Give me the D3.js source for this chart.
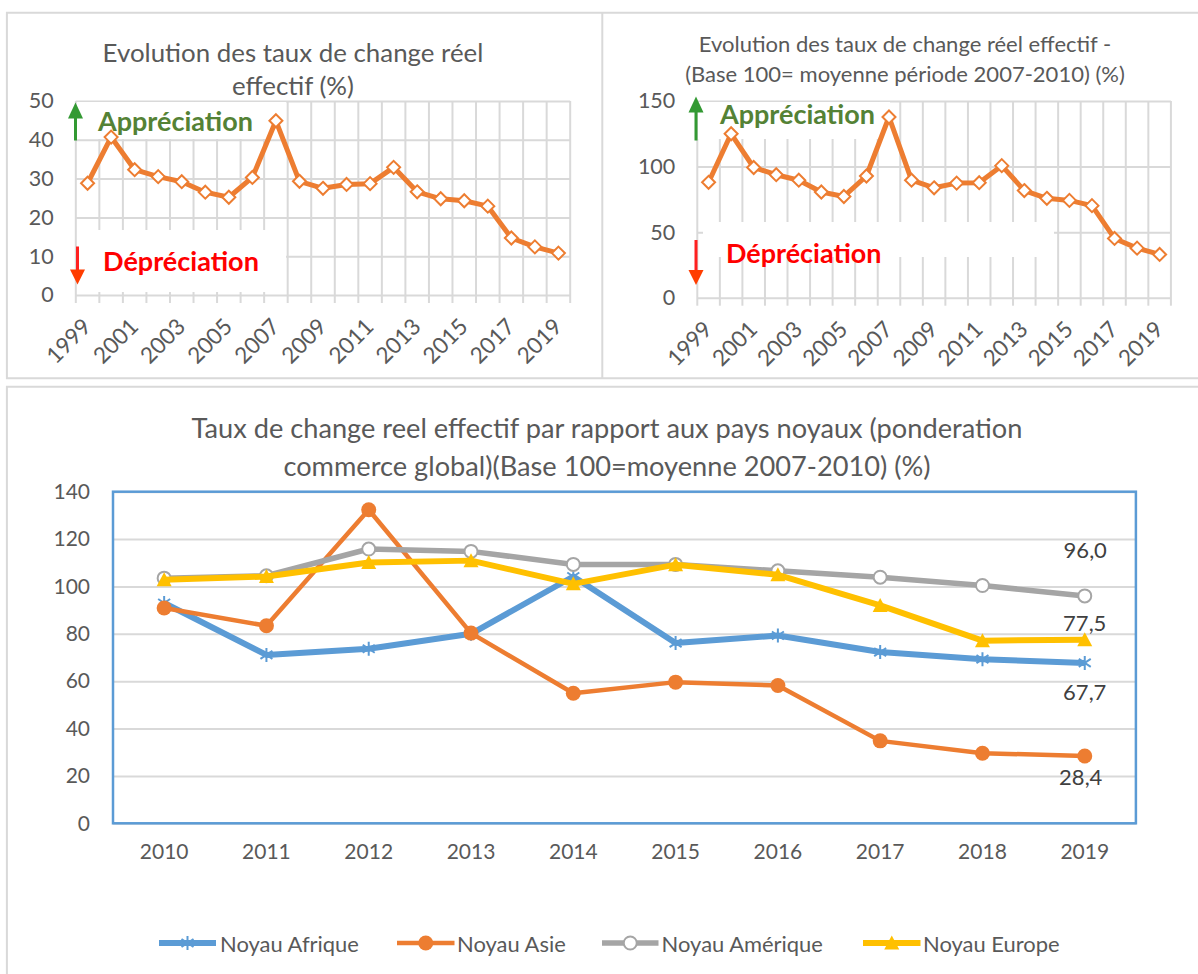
<!DOCTYPE html>
<html>
<head>
<meta charset="utf-8">
<script src="https://cdn.jsdelivr.net/npm/d3@7.9.0/dist/d3.min.js"></script>
<style>
  body { margin: 0; background: #fff; }
  svg { display: block; }
  text { font-family: Lato, "Open Sans", sans-serif; }
</style>
</head>
<body>
<svg id="chart" width="1198" height="974"></svg>
<script>
// ---- data ----
const years = ["1999", "2000", "2001", "2002", "2003", "2004", "2005", "2006", "2007", "2008",
  "2009", "2010", "2011", "2012", "2013", "2014", "2015", "2016", "2017", "2018", "2019"];
const tcrePct = [28.8, 40.7, 32.3, 30.5, 29.2, 26.5, 25.2, 30.3, 44.9, 29.3,
  27.5, 28.5, 28.7, 32.9, 26.6, 24.8, 24.3, 22.9, 14.7, 12.4, 10.8];
const tcreBase100 = [88.0, 125.0, 99.3, 93.8, 89.6, 80.6, 77.2, 92.8, 137.8, 89.6,
  83.8, 87.4, 87.7, 100.7, 81.7, 75.8, 74.2, 70.2, 45.2, 37.8, 33.0];

const coreYears = ["2010", "2011", "2012", "2013", "2014", "2015", "2016", "2017", "2018", "2019"];
const noyauAfrique = [93.0, 71.1, 73.7, 80.0, 104.2, 76.1, 79.3, 72.3, 69.3, 67.7];
const noyauAsie = [90.9, 83.4, 132.4, 80.3, 54.9, 59.6, 58.2, 34.8, 29.6, 28.4];
const noyauAmerique = [103.5, 104.5, 115.8, 114.8, 109.3, 109.3, 106.6, 103.9, 100.4, 96.0];
const noyauEurope = [102.8, 104.2, 110.1, 110.9, 101.1, 109.2, 104.9, 92.0, 77.1, 77.5];
const seriesNames = ["Noyau Afrique", "Noyau Asie", "Noyau Amérique", "Noyau Europe"];

const svg = d3.select("#chart");
const grid = "#d9d9d9";
const labelColor = "#595959";

// shrink/grow a text to a given width
function fitText(sel, target) {
  const w = sel.node().getComputedTextLength();
  const size = parseFloat(sel.attr("font-size")) * target / w;
  sel.attr("font-size", size);
  return size;
}

// ---- panel frames ----
const frame = svg.append("g").attr("stroke", grid).attr("stroke-width", 2);
frame.append("path").attr("fill", "none")
  .attr("d", "M1198,12.7H6.9V378.3H1198M602.3,12.7V378.3M1198,386.7H6.9V974");

// ---- the two small charts ----
function drawSmall(cfg) {
  const g = svg.append("g");
  const x = d3.scaleBand().domain(years).range([cfg.left, cfg.right]);
  const y = d3.scaleLinear().domain(cfg.yDomain).range([cfg.bottom, cfg.top]);
  const bw = x.bandwidth();

  // horizontal grid + labels
  const yAxis = g.append("g")
    .attr("transform", `translate(${cfg.left},0)`)
    .call(d3.axisLeft(y).tickValues(cfg.yTicks).tickSize(-(cfg.right - cfg.left)).tickPadding(22));
  yAxis.select(".domain").remove();
  yAxis.selectAll("line").attr("stroke", grid).attr("stroke-width", 2);
  yAxis.selectAll("text").attr("fill", labelColor).attr("font-size", 21.5).attr("font-family", "Lato");

  // vertical grid on category bounds
  const bounds = years.map(d => x(d)).concat([cfg.right]);
  g.append("g").selectAll("line").data(bounds).join("line")
    .attr("x1", d => d).attr("x2", d => d)
    .attr("y1", cfg.top).attr("y2", cfg.bottom + 8)
    .attr("stroke", grid).attr("stroke-width", 2);

  // rotated year labels
  g.append("g").selectAll("text").data(years.filter((d, i) => i % 2 === 0)).join("text")
    .attr("transform", d => `translate(${x(d) + bw / 2 + 5},${cfg.bottom + 33}) rotate(-45)`)
    .attr("text-anchor", "end")
    .attr("font-size", 22.5)
    .attr("fill", labelColor)
    .text(d => d);

  // white text boxes over the grid
  g.append("g").selectAll("rect").data(cfg.boxes).join("rect")
    .attr("x", d => d[0]).attr("y", d => d[1]).attr("width", d => d[2]).attr("height", d => d[3])
    .attr("fill", "#fff");

  // arrows
  const up = cfg.upArrow, dn = cfg.downArrow;
  g.append("line").attr("x1", up.x).attr("x2", up.x).attr("y1", up.y2).attr("y2", up.y1 + 12)
    .attr("stroke", "#339933").attr("stroke-width", 3);
  g.append("path").attr("fill", "#339933")
    .attr("d", `M${up.x},${up.y1}L${up.x + 7.5},${up.y1 + 16}L${up.x - 7.5},${up.y1 + 16}Z`);
  g.append("line").attr("x1", dn.x).attr("x2", dn.x).attr("y1", dn.y1).attr("y2", dn.y2 - 12)
    .attr("stroke", "#ff2020").attr("stroke-width", 3);
  g.append("path").attr("fill", "#ff3d00")
    .attr("d", `M${dn.x},${dn.y2}L${dn.x + 7.5},${dn.y2 - 15}L${dn.x - 7.5},${dn.y2 - 15}Z`);

  // annotation words
  const ap = g.append("text").attr("x", cfg.appr[0]).attr("y", cfg.appr[1])
    .attr("dominant-baseline", "central").attr("font-weight", "bold").attr("font-size", 26)
    .attr("fill", "#548235").text("Appréciation");
  fitText(ap, cfg.appr[2]);
  const dp = g.append("text").attr("x", cfg.depr[0]).attr("y", cfg.depr[1])
    .attr("dominant-baseline", "central").attr("font-weight", "bold").attr("font-size", 26)
    .attr("fill", "#ff0000").text("Dépréciation");
  fitText(dp, cfg.depr[2]);

  // title
  const t = g.append("g").attr("fill", labelColor);
  const lines = cfg.title.map((s, i) => t.append("text")
    .attr("x", cfg.titleX).attr("y", cfg.titleY[i])
    .attr("text-anchor", "middle").attr("dominant-baseline", "central")
    .attr("font-size", 24).text(s));
  const fs = fitText(lines[cfg.titleFit], cfg.titleWidth);
  lines.forEach(l => l.attr("font-size", fs));

  // series
  const pts = years.map((d, i) => ({ year: d, value: cfg.values[i] }));
  const line = d3.line().x(d => x(d.year) + bw / 2).y(d => y(d.value));
  g.append("path").datum(pts)
    .attr("fill", "none").attr("stroke", "#ed7d31").attr("stroke-width", 5)
    .attr("stroke-linejoin", "round").attr("d", line);
  g.append("g").selectAll("path").data(pts).join("path")
    .attr("transform", d => `translate(${x(d.year) + bw / 2},${y(d.value)})`)
    .attr("d", "M0,-6.5L6.5,0L0,6.5L-6.5,0Z")
    .attr("fill", "#fff").attr("stroke", "#ed7d31").attr("stroke-width", 2);
}

drawSmall({
  left: 75.8, right: 570.2, top: 101, bottom: 295,
  yDomain: [0, 50], yTicks: [0, 10, 20, 30, 40, 50],
  values: tcrePct,
  boxes: [[77, 102, 209, 37], [77, 230, 209, 62]],
  upArrow: { x: 75.5, y1: 102.5, y2: 140.5 },
  downArrow: { x: 77.5, y1: 246.5, y2: 284.5 },
  appr: [98, 120, 155], depr: [103, 260, 156],
  title: ["Evolution des taux de change réel", "effectif (%)"],
  titleX: 293, titleY: [52, 85], titleFit: 0, titleWidth: 381
});

drawSmall({
  left: 697.3, right: 1170.9, top: 101, bottom: 297.7,
  yDomain: [0, 150], yTicks: [0, 50, 100, 150],
  values: tcreBase100,
  boxes: [[698, 102, 192, 37], [703, 222, 351, 35]],
  upArrow: { x: 696, y1: 96.5, y2: 140.5 },
  downArrow: { x: 696, y1: 240, y2: 285 },
  appr: [720, 113, 155], depr: [726, 252, 155.5],
  title: ["Evolution des taux de change réel effectif -", "(Base 100= moyenne période 2007-2010) (%)"],
  titleX: 905, titleY: [43, 73], titleFit: 1, titleWidth: 440
});

// ---- bottom chart ----
const bx = d3.scaleBand().domain(coreYears).range([113, 1135.9]);
const by = d3.scaleLinear().domain([0, 140]).range([823.3, 491.7]);
const bbw = bx.bandwidth();
const bg = svg.append("g");

const bTitle = bg.append("g").attr("fill", labelColor);
const bLines = ["Taux de change reel effectif par rapport aux pays noyaux (ponderation",
  "commerce global)(Base 100=moyenne 2007-2010) (%)"].map((s, i) => bTitle.append("text")
  .attr("x", 607).attr("y", [427.7, 465][i])
  .attr("text-anchor", "middle").attr("dominant-baseline", "central")
  .attr("font-family", "Open Sans").attr("font-size", 22).text(s));
const bfs = fitText(bLines[0], 831);
bLines.forEach(l => l.attr("font-size", bfs));

const bAxis = bg.append("g").attr("transform", "translate(113,0)")
  .call(d3.axisLeft(by).tickValues([0, 20, 40, 60, 80, 100, 120, 140])
    .tickSize(-(1135.9 - 113)).tickPadding(23));
bAxis.select(".domain").remove();
bAxis.selectAll("line").attr("stroke", grid).attr("stroke-width", 2);
bAxis.selectAll("text").attr("fill", labelColor).attr("font-size", 21).attr("font-family", "Lato");

const xAxis = bg.append("g").attr("transform", "translate(0,823.3)")
  .call(d3.axisBottom(bx).tickSize(0).tickPadding(21));
xAxis.select(".domain").remove();
xAxis.selectAll("text").attr("fill", labelColor).attr("font-size", 21).attr("font-family", "Lato");

bg.append("rect").attr("x", 113).attr("y", 491.7).attr("width", 1135.9 - 113).attr("height", 823.3 - 491.7)
  .attr("fill", "none").attr("stroke", "#5b9bd5").attr("stroke-width", 2.5);

const markers = {
  star: "M0,-7V7M-6,-4L6,4M-6,4L6,-4",
  dot: d3.symbol(d3.symbolCircle, Math.PI * 7.5 * 7.5)(),
  ring: d3.symbol(d3.symbolCircle, Math.PI * 6.5 * 6.5)(),
  tri: "M0,-7.5L7.5,6.5L-7.5,6.5Z"
};

const series = [
  { name: seriesNames[0], values: noyauAfrique, color: "#5b9bd5", width: 6, marker: "star",
    fill: "none", mstroke: "#5b9bd5", label: [0, 28.4] },
  { name: seriesNames[1], values: noyauAsie, color: "#ed7d31", width: 4.5, marker: "dot",
    fill: "#ed7d31", mstroke: "none", label: [-4, 20.6] },
  { name: seriesNames[2], values: noyauAmerique, color: "#a5a5a5", width: 5.5, marker: "ring",
    fill: "#fff", mstroke: "#a5a5a5", label: [0.5, -46] },
  { name: seriesNames[3], values: noyauEurope, color: "#ffc000", width: 6, marker: "tri",
    fill: "#ffc000", mstroke: "none", label: [0, -17.3] }
];

const bLine = d3.line().x((d, i) => bx(coreYears[i]) + bbw / 2).y(d => by(d));
series.forEach(s => {
  bg.append("path").datum(s.values)
    .attr("fill", "none").attr("stroke", s.color).attr("stroke-width", s.width)
    .attr("stroke-linejoin", "round").attr("d", bLine);
  bg.append("g").selectAll("path").data(s.values).join("path")
    .attr("transform", (d, i) => `translate(${bx(coreYears[i]) + bbw / 2},${by(d)})`)
    .attr("d", markers[s.marker])
    .attr("fill", s.fill).attr("stroke", s.mstroke).attr("stroke-width", 2);
});

// last-value labels
const fmt = v => d3.format(".1f")(v).replace(".", ",");
series.forEach(s => {
  const last = s.values.length - 1;
  bg.append("text")
    .attr("x", bx(coreYears[last]) + bbw / 2 + s.label[0])
    .attr("y", by(s.values[last]) + s.label[1])
    .attr("text-anchor", "middle").attr("dominant-baseline", "central")
    .attr("font-size", 22).attr("fill", "#404040")
    .text(fmt(s.values[last]));
});

// legend
const legendSpots = [[159, 216, 220], [397, 454.5, 457], [602, 658.5, 661.6], [863, 920.5, 923]];
const legend = bg.append("g").attr("transform", "translate(0,943)");
let legendSize = 20;
series.forEach((s, i) => {
  const [a, b, tx] = legendSpots[i];
  legend.append("line").attr("x1", a).attr("x2", b)
    .attr("stroke", s.color).attr("stroke-width", s.width);
  legend.append("path").attr("transform", `translate(${(a + b) / 2},0)`)
    .attr("d", markers[s.marker])
    .attr("fill", s.fill).attr("stroke", s.mstroke).attr("stroke-width", 2);
  const lt = legend.append("text").attr("x", tx).attr("dominant-baseline", "central")
    .attr("font-size", legendSize).attr("fill", labelColor).text(s.name);
  if (i === 0) legendSize = fitText(lt, 139);
});
</script>
</body>
</html>
